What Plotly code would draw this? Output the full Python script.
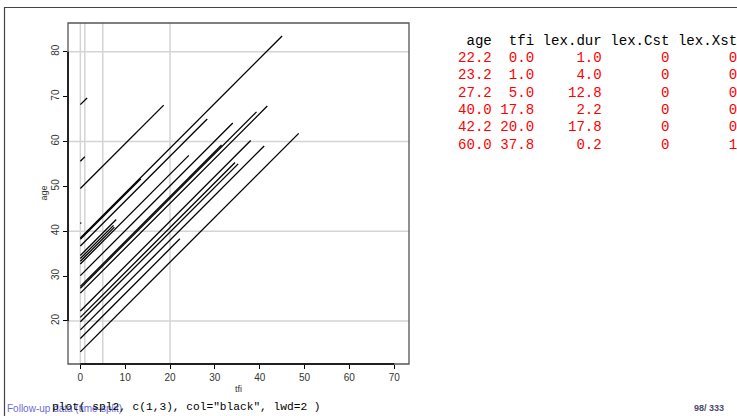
import plotly.graph_objects as go

# ---- data ----
entry_age = [68.2, 55.6, 49.5, 41.7, 38.5, 38.2, 36.7, 34.6, 33.9, 33.3, 32.7,
             30.1, 27.7, 27.3, 26.2, 22.2, 20.8, 19.8, 18.0, 16.1, 13.1]
duration = [1.5, 1.0, 18.6, 0.2, 45.0, 13.5, 28.3, 8.0, 7.4, 7.6, 24.2,
            34.0, 31.5, 39.3, 41.7, 38.0, 34.5, 35.2, 41.0, 22.2, 48.7]
split_breaks = [0, 1, 5, 20]
age_grid = [20, 40, 60, 80]
x_ticks = [0, 10, 20, 30, 40, 50, 60, 70]
y_ticks = [20, 30, 40, 50, 60, 70, 80]

tbl_header = ["age", "tfi", "lex.dur", "lex.Cst", "lex.Xst"]
tbl_age = ["22.2", "23.2", "27.2", "40.0", "42.2", "60.0"]
tbl_tfi = ["0.0", "1.0", "5.0", "17.8", "20.0", "37.8"]
tbl_dur = ["1.0", "4.0", "12.8", "2.2", "17.8", "0.2"]
tbl_cst = ["0", "0", "0", "0", "0", "0"]
tbl_xst = ["0", "0", "0", "0", "0", "1"]
col_widths = [4, 4, 7, 7, 7]

W, H = 737, 416
L, R, T, B = 68, 409, 23, 364
PW, PH = R - L, B - T


def xp(px):
    return (px - L) / PW


def yp(py):
    return (B - py) / PH


xs, ys = [], []
for a, d in zip(entry_age, duration):
    xs += [0, d, None]
    ys += [a, a + d, None]

fig = go.Figure()
fig.add_trace(go.Scatter(x=xs, y=ys, mode="lines",
                         line=dict(color="black", width=1.3),
                         hoverinfo="skip", showlegend=False))

shapes = []
for b in split_breaks:
    shapes.append(dict(type="line", xref="x", yref="y domain", x0=b, x1=b, y0=0, y1=1,
                       line=dict(color="#d4d4d4", width=1.5), layer="below"))
for g in age_grid:
    shapes.append(dict(type="line", xref="x domain", yref="y", x0=0, x1=1, y0=g, y1=g,
                       line=dict(color="#d4d4d4", width=1.5), layer="below"))
# plot box
shapes.append(dict(type="rect", xref="x domain", yref="y domain", x0=0, x1=1, y0=0, y1=1,
                   line=dict(color="#555555", width=1.3), layer="above"))
# axis lines (R style, from first to last tick)
shapes.append(dict(type="line", xref="x", yref="y domain", x0=x_ticks[0], x1=x_ticks[-1],
                   y0=0, y1=0, line=dict(color="black", width=1.5)))
shapes.append(dict(type="line", xref="x domain", yref="y", x0=0, x1=0,
                   y0=y_ticks[0], y1=y_ticks[-1], line=dict(color="black", width=1.5)))
# slide frame (top and left edges)
shapes.append(dict(type="path", xref="paper", yref="paper",
                   path=f"M {xp(740)} {yp(7.5)} L {xp(4.5)} {yp(7.5)} L {xp(4.5)} {yp(420)}",
                   line=dict(color="#444444", width=1.2), layer="above"))

NB = "\u00a0"


def fmt_row(vals):
    parts = [vals[0].rjust(col_widths[0])]
    for v, w in zip(vals[1:], col_widths[1:]):
        parts.append(v.rjust(w))
    return " ".join(parts).replace(" ", NB)


mono = "Liberation Mono"
annotations = []
annotations.append(dict(text=fmt_row(tbl_header), x=xp(456), y=yp(40.7), xref="paper", yref="paper",
                        xanchor="left", yanchor="middle", showarrow=False,
                        font=dict(family=mono, size=14.1, color="black")))
for i in range(len(tbl_age)):
    row = [tbl_age[i], tbl_tfi[i], tbl_dur[i], tbl_cst[i], tbl_xst[i]]
    annotations.append(dict(text=fmt_row(row), x=xp(456), y=yp(57.7 + 17.45 * i),
                            xref="paper", yref="paper", xanchor="left", yanchor="middle",
                            showarrow=False, font=dict(family=mono, size=14.1, color="#ff0000")))

# axis titles
annotations.append(dict(text="tfi", x=0.5, y=yp(389), xref="paper", yref="paper",
                        showarrow=False, xanchor="center", yanchor="middle",
                        font=dict(family="Liberation Sans", size=9, color="#333333")))
annotations.append(dict(text="age", x=xp(43), y=0.5, xref="paper", yref="paper", textangle=-90,
                        showarrow=False, xanchor="center", yanchor="middle",
                        font=dict(family="Liberation Sans", size=9, color="#333333")))

# footer
annotations.append(dict(text="Follow-up data (time-split)", x=xp(5), y=yp(408.5), xref="paper",
                        yref="paper", xanchor="left", yanchor="middle", showarrow=False,
                        font=dict(family="Liberation Sans", size=10, color="#6b6bd6")))
annotations.append(dict(text='plot( spl2, c(1,3), col="black", lwd=2 )'.replace(" ", NB),
                        x=xp(50), y=yp(407), xref="paper", yref="paper", xanchor="left",
                        yanchor="middle", showarrow=False,
                        font=dict(family=mono, size=11.2, color="black")))
annotations.append(dict(text="<b>98/ 333</b>", x=xp(726), y=yp(408.5), xref="paper", yref="paper",
                        xanchor="right", yanchor="middle", showarrow=False,
                        font=dict(family="Liberation Sans", size=9, color="#4a4a6a")))

fig.update_layout(
    width=W, height=H,
    margin=dict(l=L, r=W - R, t=T, b=H - B, pad=0),
    paper_bgcolor="white", plot_bgcolor="white",
    xaxis=dict(range=[-2.75, 73.3], tickvals=x_ticks, ticks="outside", ticklen=4,
               tickwidth=1, tickcolor="black", showgrid=False, zeroline=False, showline=False,
               tickfont=dict(family="Liberation Sans", size=10, color="#333333")),
    yaxis=dict(range=[10.4, 86.4], tickvals=y_ticks, ticks="outside", ticklen=4,
               tickwidth=1, tickcolor="black", showgrid=False, zeroline=False, showline=False,
               tickangle=-90,
               tickfont=dict(family="Liberation Sans", size=10, color="#333333")),
    shapes=shapes,
    annotations=annotations,
    showlegend=False,
)

fig.write_html("out.html", config={"displayModeBar": False},
               post_script="document.body.style.margin='0';document.body.style.overflow='hidden';")
